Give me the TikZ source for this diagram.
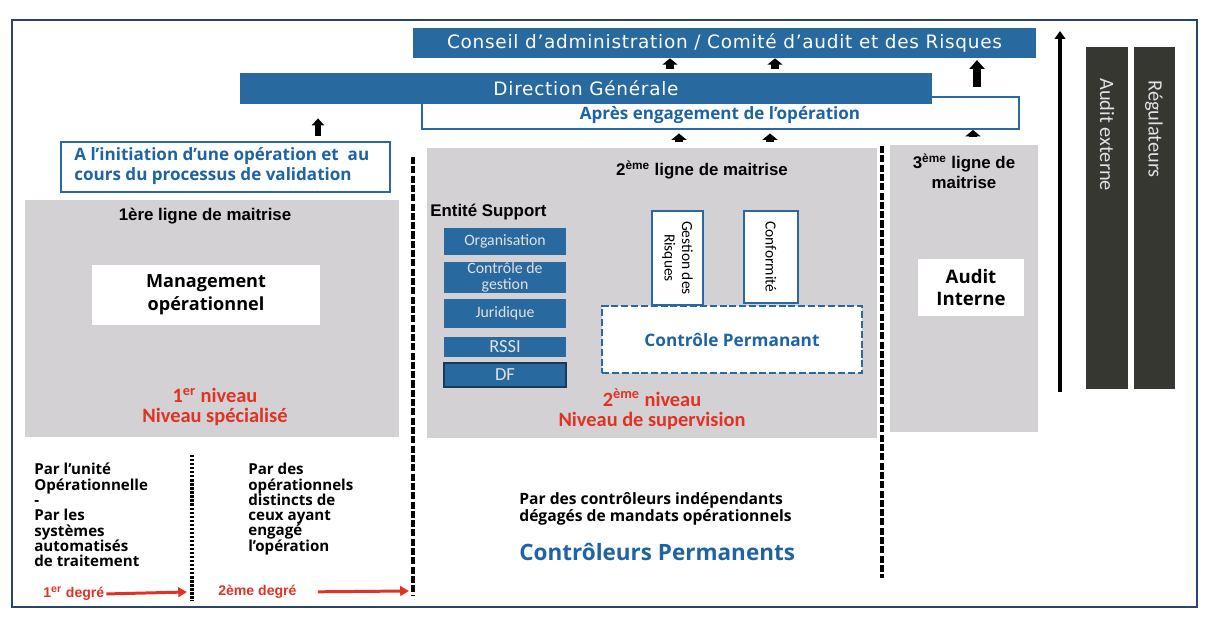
\documentclass[tikz,border=0pt]{standalone}
\usepackage{fontspec}
\setmainfont{Open Sans}
\newfontfamily\dvfont[LetterSpace=4]{DejaVu Sans}
\newfontfamily\arialfont{Liberation Sans}
\newfontfamily\calfont{Carlito}
\usetikzlibrary{arrows.meta,calc}
\definecolor{boxblue}{RGB}{40,105,160}
\definecolor{bluetext}{RGB}{30,100,165}
\definecolor{framecol}{RGB}{40,70,105}
\definecolor{graybg}{RGB}{211,209,211}
\definecolor{darkbg}{RGB}{55,55,50}
\definecolor{redtext}{RGB}{225,50,35}
\definecolor{lighttext}{RGB}{225,225,230}
\newcommand\fz[2]{\fontsize{#1}{#2}\selectfont}
% \bx{style}{x1}{y1}{x2}{y2}{name}{text}
\newcommand\bx[7]{\node[#1,minimum width={(#4-#2)*0.02cm},minimum height={(#5-#3)*0.02cm}] (#6) at ({(#2+#4)/2},{(#3+#5)/2}) {#7};}
\begin{document}
\begin{tikzpicture}[x=0.02cm,y=-0.02cm,
  frameline/.style={draw=framecol,line width=1.3pt},
  bluebar/.style={rectangle,fill=boxblue,draw=none,text=white,inner sep=0,font=\dvfont\fz{10.5}{12}},
  outlinebox/.style={rectangle,draw=boxblue,line width=1.1pt,fill=white,inner sep=0},
  graybox/.style={rectangle,fill=graybg,draw=none,inner sep=0},
  whitebox/.style={rectangle,fill=white,draw=none,inner sep=0,align=center,font=\bfseries\fz{10.3}{13}},
  smallblue/.style={rectangle,fill=boxblue,draw=none,inner sep=0,align=center,text=lighttext,font=\calfont\fz{9}{9.5}},
  darkbar/.style={rectangle,fill=darkbg,draw=none,inner sep=0},
  darktext/.style={rotate=-90,anchor=west,inner sep=0,text=lighttext,font=\calfont\fz{11.6}{12}},
  title/.style={font=\arialfont\bfseries\fz{9.6}{11},inner sep=0},
  redlbl/.style={text=redtext,align=center,font=\calfont\bfseries\fz{11.6}{11.4},inner sep=0},
  dashedbox/.style={rectangle,draw=boxblue,line width=1.3pt,dash pattern=on 4pt off 1.6pt,fill=white,inner sep=0,text=bluetext,font=\bfseries\fz{9.8}{11}},
  rottext/.style={rotate=-90,align=center,font=\calfont\fz{8.8}{10},inner sep=0},
  bluelbl/.style={text=bluetext,inner sep=0,font=\bfseries\fz{9.7}{11.2}},
  house/.style={line width=4.5pt,-{Triangle[width=8.5pt,length=3.6pt]}},
  bigblock/.style={line width=4.5pt,-{Triangle[width=8.5pt,length=5pt]}},
  midblock/.style={line width=3.8pt,-{Triangle[width=7pt,length=4pt]}},
  longarrow/.style={line width=2.3pt,-{Triangle[width=6pt,length=4.5pt]}},
  sepdash/.style={line width=2pt,dash pattern=on 4pt off 1.3pt},
  sepdot/.style={line width=2pt,dash pattern=on 1.3pt off 1pt},
  redarrow/.style={draw=redtext,line width=1.7pt,-{Triangle[width=5.5pt,length=5pt]}},
  bottomtxt/.style={anchor=north west,align=left,inner sep=0,font=\bfseries\fz{8.6}{8.7}},
  degre/.style={text=redtext,font=\arialfont\bfseries\fz{8}{9},inner sep=0}
]
\useasboundingbox (0,0) rectangle (1207,617);
\draw[frameline] (12,20) rectangle (1197,607);

% top bars
\bx{outlinebox}{422}{97}{1019}{129}{apres}{}
\node[bluelbl] (apt) at (720,115) {Après engagement de l’opération};
\bx{bluebar}{240}{73}{932}{104}{dg}{Direction Générale}
\bx{bluebar}{413}{28}{1036}{58}{cons}{Conseil d’administration / Comité d’audit et des Risques}
\bx{outlinebox}{61}{142}{390}{192}{init}{}
\node[bluelbl,anchor=west,align=left] (initt) at (74,166) {A l’initiation d’une opération et\ \ au\\cours du processus de validation};

% gray box 1
\bx{graybox}{25}{200}{399}{437}{g1}{}
\node[title] (t1) at (205,216) {1ère ligne de maitrise};
\bx{whitebox}{92}{265}{320}{325}{mgmt}{Management\\opérationnel}
\node[redlbl] (n1) at (215,407) {1\textsuperscript{er} niveau\\Niveau spécialisé};

% gray box 2
\bx{graybox}{427}{148}{877}{438}{g2}{}
\node[title] (t2) at (702,170) {2\textsuperscript{ème} ligne de maitrise};
\node[title,anchor=west] (es) at (430,212) {Entité Support};
\bx{smallblue}{444}{228}{566}{255}{org}{Organisation}
\bx{smallblue}{444}{262}{566}{293}{cdg}{Contrôle de\\gestion}
\bx{smallblue}{444}{299}{566}{328}{jur}{Juridique}
\bx{smallblue,font=\calfont\fz{10.5}{11}}{444}{337}{566}{357}{rssi}{RSSI}
\bx{smallblue,draw=boxblue!55!black,line width=0.8pt,font=\calfont\fz{10.5}{11}}{444}{363}{566}{387}{df}{DF}
\bx{outlinebox}{652}{211}{703}{305}{gr}{}
\node[rottext] (grt) at (gr.center) {Gestion des\\Risques};
\bx{outlinebox}{744}{211}{798}{303}{conf}{}
\node[rottext] (conft) at (conf.center) {Conformité};
\bx{dashedbox}{602}{306}{862}{373}{cp}{Contrôle Permanant}
\node[redlbl] (n2) at (652,409) {2\textsuperscript{ème} niveau\\Niveau de supervision};

% gray box 3
\bx{graybox}{890}{145}{1038}{432}{g3}{}
\node[title,align=center] (t3) at (964,171) {3\textsuperscript{ème} ligne de\\maitrise};
\bx{whitebox,font=\bfseries\fz{10.6}{13}}{918}{259}{1024}{316}{ai}{Audit\\Interne}

% dark bars
\bx{darkbar}{1086}{47}{1128}{389}{ae}{}
\node[darktext] (aet) at (1107,78) {Audit externe};
\bx{darkbar}{1134}{47}{1175}{389}{reg}{}
\node[darktext] (regt) at (1154,80) {Régulateurs};

% long arrow
\coordinate (la1) at (1060,392);
\coordinate (la2) at (1060,31);
\draw[longarrow] (la1) -- (la2);

% block arrows
\coordinate (x670) at (670,0);
\coordinate (x775) at (775,0);
\coordinate (x977) at (977,0);
\coordinate (x318) at (318,0);
\coordinate (x679) at (679,0);
\coordinate (x770) at (770,0);
\coordinate (x973) at (973,0);
\draw[house,shorten <=2pt] (dg.north -| x670) -- (cons.south -| x670);
\draw[house,shorten <=2pt] (dg.north -| x775) -- (cons.south -| x775);
\draw[bigblock,shorten <=5pt,shorten >=1pt] (apres.north -| x977) -- (cons.south -| x977);
\draw[midblock,shorten <=3pt,shorten >=8pt] (init.north -| x318) -- (dg.south -| x318);
\draw[house,shorten <=3pt,shorten >=2pt] (g2.north -| x679) -- (apres.south -| x679);
\draw[house,shorten <=3pt,shorten >=2pt] (g2.north -| x770) -- (apres.south -| x770);
\draw[house,shorten <=4.5pt,shorten >=0pt] (g3.north -| x973) -- (apres.south -| x973);

% separators
\coordinate (s1a) at (413,157); \coordinate (s1b) at (413,595);
\coordinate (s2a) at (882,146); \coordinate (s2b) at (882,578);
\coordinate (s3a) at (192,455); \coordinate (s3b) at (192,601);
\draw[sepdash] (s1a) -- (s1b);
\draw[sepdash] (s2a) -- (s2b);
\draw[sepdot] (s3a) -- (s3b);

% bottom texts
\node[bottomtxt] (b1) at (34,463) {Par l’unité\\Opérationnelle\\-\\Par les\\systèmes\\automatisés\\de traitement};
\node[bottomtxt] (b2) at (248,463) {Par des\\opérationnels\\distincts de\\ceux ayant\\engagé\\l’opération};
\node[bottomtxt,font=\bfseries\fz{8.9}{9.7}] (b3) at (519,492) {Par des contrôleurs indépendants\\dégagés de mandats opérationnels};
\node[anchor=west,inner sep=0,text=bluetext,font=\bfseries\fz{12.8}{14}] (cperm) at (519,552) {Contrôleurs Permanents};

% degres
\node[degre,anchor=west] (d1) at (43,594) {1\textsuperscript{er} degré};
\coordinate (d1e) at (187,592);
\draw[redarrow,shorten <=1pt] (d1.east) -- (d1e);
\node[degre,anchor=west] (d2) at (218,592) {2ème degré};
\coordinate (d2e) at (409,591);
\draw[redarrow,shorten <=12pt] (d2.east) -- (d2e);
\end{tikzpicture}
\end{document}
